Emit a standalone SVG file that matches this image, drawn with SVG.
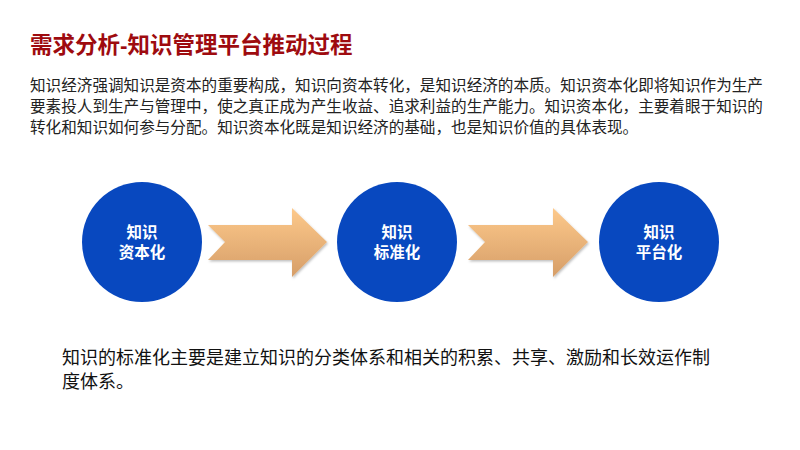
<svg xmlns="http://www.w3.org/2000/svg" width="800" height="450" viewBox="0 0 800 450">
<style>
.title{font-family:"Liberation Sans","Noto Sans CJK SC",sans-serif;font-size:22.5px;font-weight:bold;fill:#9E0B0F}
.para{font-family:"Liberation Sans","Noto Sans CJK SC",sans-serif;font-size:15.6px;fill:#222}
.note{font-family:"Liberation Sans","Noto Sans CJK SC",sans-serif;font-size:18px;fill:#111}
.circ{fill:#0848BF}
.lbl{font-family:"Liberation Sans","Noto Sans CJK SC",sans-serif;font-size:15.5px;font-weight:bold;fill:#fff;text-anchor:middle}
.arrow{fill:url(#ag);filter:url(#sh)}
</style>
<defs>
<linearGradient id="ag" x1="0" y1="0" x2="0" y2="1">
<stop offset="0" stop-color="#FDC98B"/>
<stop offset="1" stop-color="#D69E68"/>
</linearGradient>
<filter id="sh" x="-10%" y="-10%" width="130%" height="130%">
<feDropShadow dx="1" dy="1.5" stdDeviation="1.2" flood-color="#000" flood-opacity="0.25"/>
</filter>
</defs>
<rect width="800" height="450" fill="#fff"/>
<text class="title" x="30" y="53">需求分析-知识管理平台推动过程</text>
<text class="para" x="30" y="91">知识经济强调知识是资本的重要构成，知识向资本转化，是知识经济的本质。知识资本化即将知识作为生产</text>
<text class="para" x="30" y="112">要素投人到生产与管理中，使之真正成为产生收益、追求利益的生产能力。知识资本化，主要着眼于知识的</text>
<text class="para" x="30" y="133">转化和知识如何参与分配。知识资本化既是知识经济的基础，也是知识价值的具体表现。</text>
<g id="connectors">
<polygon class="arrow" points="208,225 292,225 292,208 327,242 292,277 292,260 208,260 225,242"/>
<polygon class="arrow" points="468,225 553,225 553,208 588,242 553,277 553,260 468,260 485,242"/>
</g>
<g id="node1">
<circle class="circ" cx="142" cy="242" r="60"/>
<text class="lbl" x="142" y="238">知识</text>
<text class="lbl" x="142" y="258">资本化</text>
</g>
<g id="node2">
<circle class="circ" cx="397" cy="242" r="60"/>
<text class="lbl" x="397" y="238">知识</text>
<text class="lbl" x="397" y="258">标准化</text>
</g>
<g id="node3">
<circle class="circ" cx="659" cy="242" r="60"/>
<text class="lbl" x="659" y="238">知识</text>
<text class="lbl" x="659" y="258">平台化</text>
</g>
<text class="note" x="62" y="364">知识的标准化主要是建立知识的分类体系和相关的积累、共享、激励和长效运作制</text>
<text class="note" x="62" y="388">度体系。</text>
</svg>
